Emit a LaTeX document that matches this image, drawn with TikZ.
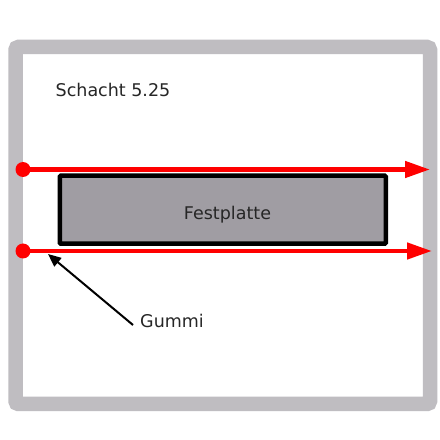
\documentclass[tikz,border=0pt]{standalone}
\usepackage{fontspec}
\setmainfont{DejaVu Sans}
\usetikzlibrary{arrows.meta}
\definecolor{framegray}{HTML}{BFBDC1}
\definecolor{diskgray}{HTML}{A09DA3}
\begin{document}
\begin{tikzpicture}[x=1pt,y=1pt,
  lbl/.style={font=\fontsize{17.5}{20}\selectfont, inner sep=0pt, text=black!85},
  rail/.style={draw=red, line width=4.5pt, -{Triangle[length=25pt,width=16pt]}},
  raildot/.style={circle, fill=red, minimum size=15pt, inner sep=0pt}]
\useasboundingbox[fill=white] (0,0) rectangle (440,440);
% frame
\draw[framegray, line width=14.5pt, rounded corners=3pt] (15.5,393) rectangle (430,36);
% disk
\node[draw=black, line width=4.5pt, fill=diskgray, rounded corners=1pt, minimum width=326pt, minimum height=68pt, inner sep=0pt] (disk) at (222.75,230.25) {};
\node[lbl] (fp) at (227.5,225) {Festplatte};
% rails
\node[raildot] (d1) at (23,270.5) {};
\coordinate (e1) at (430,270.5);
\node[raildot] (d2) at (23,189) {};
\coordinate (e2) at (432,189);
\draw[rail] (d1.center) -- (e1);
\draw[rail] (d2.center) -- (e2);
% labels
\node[lbl] (schacht) at (113,350) {Schacht 5.25};
\node[lbl] (gummi) at (172,119) {Gummi};
\coordinate (gtail) at (133,115);
\coordinate (gtip) at (48,186);
\draw[black, line width=2pt, -{Triangle[length=13pt,width=11pt]}] (gtail) -- (gtip);
\end{tikzpicture}
\end{document}
